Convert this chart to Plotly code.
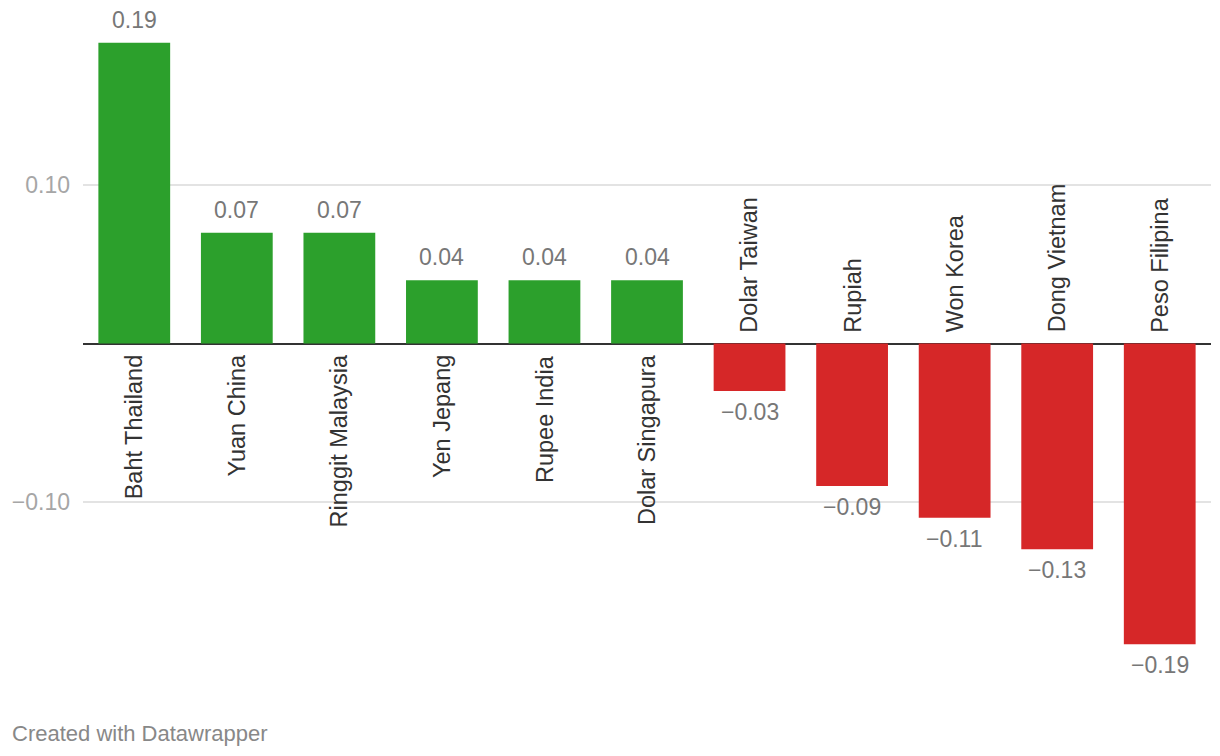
import plotly.graph_objects as go

categories = ["Baht Thailand", "Yuan China", "Ringgit Malaysia", "Yen Jepang", "Rupee India",
              "Dolar Singapura", "Dolar Taiwan", "Rupiah", "Won Korea", "Dong Vietnam", "Peso Filipina"]
values = [0.19, 0.07, 0.07, 0.04, 0.04, 0.04, -0.03, -0.09, -0.11, -0.13, -0.19]
value_labels = ["0.19", "0.07", "0.07", "0.04", "0.04", "0.04", "−0.03", "−0.09", "−0.11", "−0.13", "−0.19"]
tick_vals = [-0.1, 0.1]
tick_text = ["−0.10", "0.10"]

GREEN = "#2ca02c"
RED = "#d62728"
FONT = "Liberation Sans, Arial, Helvetica, sans-serif"

colors = [GREEN if v >= 0 else RED for v in values]

fig = go.Figure(go.Bar(
    x=categories, y=values, marker=dict(color=colors, line=dict(width=0)),
    hoverinfo="x+y",
))

annotations = []
for c, v, lab in zip(categories, values, value_labels):
    pos = v >= 0
    annotations.append(dict(
        x=c, y=v, xref="x", yref="y", text=lab, showarrow=False,
        yanchor="bottom" if pos else "top", yshift=8 if pos else -6,
        font=dict(family=FONT, size=23, color="#777777"),
    ))
    annotations.append(dict(
        x=c, y=0, xref="x", yref="y", text=c, showarrow=False, textangle=-90,
        yanchor="top" if pos else "bottom", yshift=-9 if pos else 9,
        font=dict(family=FONT, size=23.5, color="#333333"),
    ))

annotations.append(dict(
    x=-0.0647, y=-0.088, xref="paper", yref="paper", text="Created with Datawrapper",
    showarrow=False, xanchor="left", yanchor="middle",
    font=dict(family=FONT, size=22, color="#888888"),
))

fig.update_layout(
    width=1212, height=748,
    margin=dict(l=75, r=9, t=19, b=80, autoexpand=False),
    plot_bgcolor="white", paper_bgcolor="white",
    bargap=0.3,
    showlegend=False,
    annotations=annotations,
    font=dict(family=FONT),
    xaxis=dict(showticklabels=False, showgrid=False, zeroline=False, showline=False, ticks="",
               automargin=False),
    yaxis=dict(range=[-0.21, 0.2], tickvals=tick_vals, ticktext=tick_text,
               showgrid=True, gridcolor="#e3e3e3", gridwidth=2,
               zeroline=True, zerolinecolor="#333333", zerolinewidth=2,
               showline=False, ticks="", ticklabelstandoff=12, automargin=False,
               tickfont=dict(family=FONT, size=23, color="#a6a6a6")),
)

fig.write_html("out.html")
